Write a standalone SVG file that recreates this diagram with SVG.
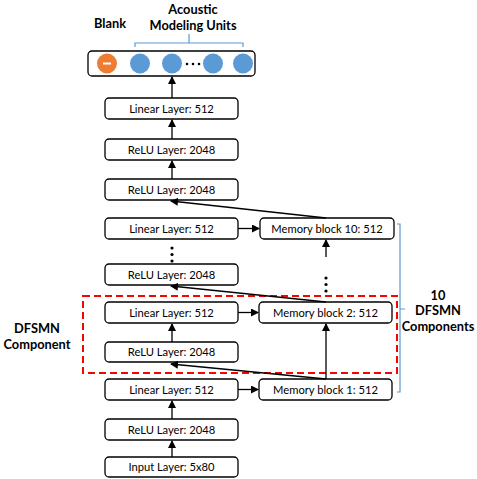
<svg xmlns="http://www.w3.org/2000/svg" width="477" height="479" viewBox="0 0 477 479">
<defs>
<marker id="ah" markerWidth="8" markerHeight="8" refX="7" refY="4" orient="auto" markerUnits="userSpaceOnUse">
<path d="M0,0 L8,4 L0,8 Z" fill="#000"/>
</marker>
<style>
.box{fill:#fff;stroke:#000;stroke-width:1.3}
.t{font-family:Lato,"Liberation Sans",sans-serif;font-size:11.2px;fill:#000;text-anchor:middle}
.b{font-family:Lato,"Liberation Sans",sans-serif;font-size:12.8px;font-weight:bold;fill:#000;text-anchor:middle}
.c{stroke:#000;stroke-width:1.3;fill:none;marker-end:url(#ah)}
.blue{fill:#5b9bd5}
.br{stroke:#5b9bd5;stroke-width:1.2;fill:none}
</style>
</defs>
<rect width="477" height="479" fill="#fff"/>

<g id="labels">
<text class="b" x="110" y="28">Blank</text>
<text class="b" x="193" y="14">Acoustic</text>
<text class="b" x="193" y="30">Modeling Units</text>
<text class="b" x="438" y="300">10</text>
<text class="b" x="438" y="315">DFSMN</text>
<text class="b" x="438" y="331">Components</text>
<text class="b" x="37" y="333">DFSMN</text>
<text class="b" x="37" y="349">Component</text>
</g>

<g id="output">
<rect class="box" x="88" y="51" width="167" height="25" rx="4"/>
<circle cx="107" cy="63.5" r="10" fill="#ed7d31"/>
<rect x="103" y="62.5" width="8" height="2" fill="#fff"/>
<circle class="blue" cx="140" cy="63.5" r="10"/>
<circle class="blue" cx="172" cy="63.5" r="10"/>
<circle class="blue" cx="213" cy="63.5" r="10"/>
<circle class="blue" cx="243" cy="63.5" r="10"/>
<circle cx="187" cy="64" r="1.3"/><circle cx="193" cy="64" r="1.3"/><circle cx="199" cy="64" r="1.3"/>
<path class="br" d="M135,47 V43 H243 V47 M189,43 V34"/>
</g>

<g id="lin_top"><rect class="box" x="105" y="98" width="133" height="21" rx="4"/><text class="t" x="171.5" y="112.5">Linear Layer: 512</text></g>
<g id="relu_a"><rect class="box" x="105" y="139" width="133" height="21" rx="4"/><text class="t" x="171.5" y="153.5">ReLU Layer: 2048</text></g>
<g id="relu_b"><rect class="box" x="105" y="179" width="133" height="21" rx="4"/><text class="t" x="171.5" y="193.5">ReLU Layer: 2048</text></g>
<g id="lin10"><rect class="box" x="105" y="218" width="133" height="21" rx="4"/><text class="t" x="171.5" y="232.5">Linear Layer: 512</text></g>
<g id="mem10"><rect class="box" x="260" y="218" width="134" height="21" rx="4"/><text class="t" x="327" y="232.5">Memory block 10: 512</text></g>
<g id="relu_c"><rect class="box" x="105" y="264" width="133" height="21" rx="4"/><text class="t" x="171.5" y="278.5">ReLU Layer: 2048</text></g>
<g id="lin2"><rect class="box" x="105" y="302" width="133" height="21" rx="4"/><text class="t" x="171.5" y="316.5">Linear Layer: 512</text></g>
<g id="mem2"><rect class="box" x="259" y="302" width="133" height="21" rx="4"/><text class="t" x="325.5" y="316.5">Memory block 2: 512</text></g>
<g id="relu2"><rect class="box" x="105" y="342" width="133" height="20" rx="4"/><text class="t" x="171.5" y="356">ReLU Layer: 2048</text></g>
<g id="lin1"><rect class="box" x="105" y="379" width="133" height="21" rx="4"/><text class="t" x="171.5" y="393.5">Linear Layer: 512</text></g>
<g id="mem1"><rect class="box" x="259" y="379" width="133" height="21" rx="4"/><text class="t" x="325.5" y="393.5">Memory block 1: 512</text></g>
<g id="relu1"><rect class="box" x="105" y="419" width="133" height="21" rx="4"/><text class="t" x="171.5" y="433.5">ReLU Layer: 2048</text></g>
<g id="input"><rect class="box" x="105" y="457" width="133" height="20" rx="4"/><text class="t" x="171.5" y="471">Input Layer: 5x80</text></g>

<g id="dfsmn_box"><rect x="83" y="296" width="314" height="77" fill="none" stroke="#ff0000" stroke-width="2" stroke-dasharray="7,4"/></g>
<g id="bracket"><path class="br" d="M397,224 H400 V392 H397 M400,309 H405"/></g>

<g id="dots">
<circle cx="172" cy="248" r="1.6"/><circle cx="172" cy="254.5" r="1.6"/><circle cx="172" cy="261" r="1.6"/>
<circle cx="326" cy="278" r="1.6"/><circle cx="326" cy="284.5" r="1.6"/><circle cx="326" cy="291" r="1.6"/>
</g>

<g id="connectors">
<line class="c" x1="172" y1="457" x2="172" y2="441"/>
<line class="c" x1="172" y1="419" x2="172" y2="401"/>
<line class="c" x1="238" y1="389.5" x2="258" y2="389.5"/>
<line class="c" x1="326" y1="379" x2="326" y2="324"/>
<line class="c" x1="326" y1="379" x2="171" y2="364"/>
<line class="c" x1="172" y1="342" x2="172" y2="324"/>
<line class="c" x1="238" y1="312.5" x2="258" y2="312.5"/>
<line class="c" x1="326" y1="302" x2="171" y2="286"/>
<line class="c" x1="326" y1="257" x2="326" y2="240"/>
<line class="c" x1="238" y1="228.5" x2="259" y2="228.5"/>
<line class="c" x1="326" y1="218" x2="171" y2="201"/>
<line class="c" x1="172" y1="179" x2="172" y2="161"/>
<line class="c" x1="172" y1="139" x2="172" y2="120"/>
<line class="c" x1="172" y1="98" x2="172" y2="77"/>
</g>
</svg>
